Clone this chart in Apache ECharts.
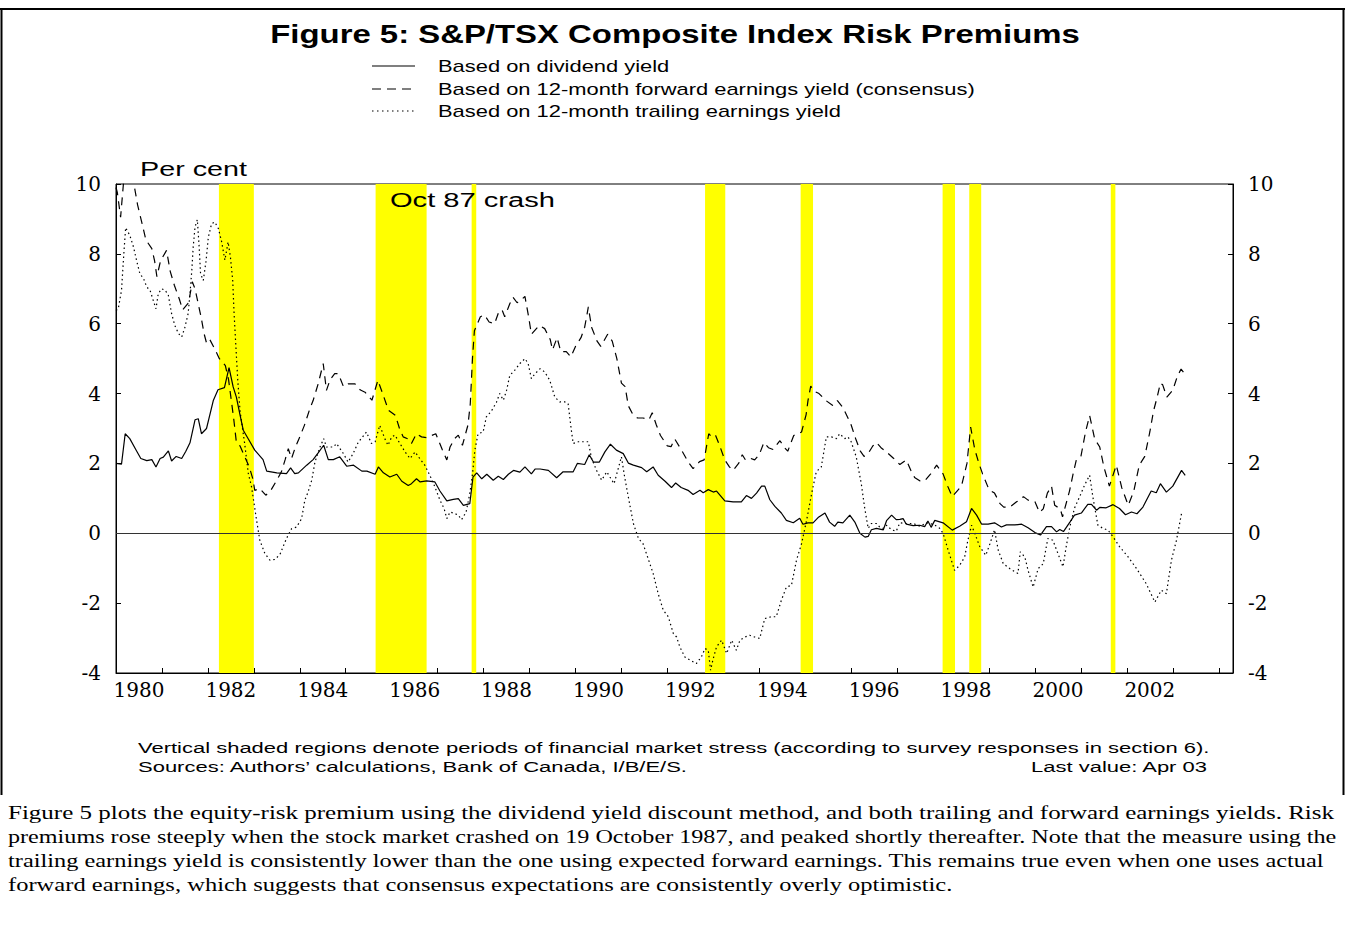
<!DOCTYPE html>
<html>
<head>
<meta charset="utf-8">
<title>Figure 5: S&amp;P/TSX Composite Index Risk Premiums</title>
<script src="https://cdn.jsdelivr.net/npm/echarts@6.0.0/dist/echarts.min.js"></script>
<style>
  html, body { margin: 0; padding: 0; background: #fff; }
  #chart { width: 1345px; height: 951px; }
</style>
</head>
<body>
<div id="chart"></div>
<script>
// monthly-ish readings, [decimal year, per cent]
const dividendYield = [
  [1980.00,2.00],[1980.12,1.98],[1980.20,2.85],[1980.30,2.71],[1980.43,2.40],[1980.54,2.14],[1980.67,2.08],
  [1980.78,2.11],[1980.87,1.90],[1980.96,2.14],[1981.03,2.18],[1981.14,2.36],[1981.21,2.07],[1981.31,2.20],
  [1981.43,2.14],[1981.52,2.35],[1981.61,2.59],[1981.72,3.25],[1981.79,3.28],[1981.86,2.85],[1981.97,3.00],
  [1982.12,3.81],[1982.22,4.11],[1982.36,4.17],[1982.46,4.74],[1982.55,4.19],[1982.62,3.90],[1982.70,3.38],
  [1982.77,2.95],[1982.88,2.70],[1983.02,2.38],[1983.20,2.11],[1983.28,1.78],[1983.50,1.73],[1983.71,1.71],
  [1983.80,1.87],[1983.89,1.71],[1983.97,1.73],[1984.15,1.95],[1984.29,2.11],[1984.40,2.30],[1984.52,2.52],
  [1984.62,2.11],[1984.73,2.11],[1984.87,2.19],[1985.02,1.92],[1985.17,1.95],[1985.35,1.78],[1985.46,1.78],
  [1985.64,1.69],[1985.71,1.90],[1985.82,1.73],[1985.96,1.61],[1986.11,1.69],[1986.22,1.49],[1986.36,1.37],
  [1986.43,1.42],[1986.54,1.56],[1986.62,1.47],[1986.76,1.50],[1986.94,1.47],[1987.05,1.21],[1987.20,0.93],
  [1987.34,0.97],[1987.45,0.99],[1987.56,0.80],[1987.70,0.85],[1987.77,1.61],[1987.85,1.73],[1987.96,1.56],
  [1988.07,1.69],[1988.21,1.52],[1988.32,1.63],[1988.43,1.54],[1988.54,1.69],[1988.65,1.80],[1988.79,1.75],
  [1988.90,1.90],[1989.04,1.70],[1989.12,1.84],[1989.23,1.84],[1989.41,1.80],[1989.59,1.59],[1989.73,1.76],
  [1989.95,1.76],[1990.04,2.00],[1990.20,1.97],[1990.30,2.25],[1990.39,2.04],[1990.52,2.04],[1990.64,2.33],
  [1990.76,2.55],[1990.89,2.38],[1991.04,2.28],[1991.15,2.01],[1991.26,1.95],[1991.44,1.88],[1991.55,1.76],
  [1991.69,1.90],[1991.80,1.66],[1991.95,1.49],[1992.09,1.31],[1992.18,1.44],[1992.30,1.31],[1992.45,1.23],
  [1992.56,1.11],[1992.71,1.23],[1992.78,1.16],[1992.89,1.25],[1993.00,1.18],[1993.07,1.21],[1993.25,0.93],
  [1993.43,0.90],[1993.61,0.90],[1993.72,1.08],[1993.83,1.00],[1993.94,1.15],[1994.05,1.35],[1994.12,1.35],
  [1994.23,0.96],[1994.34,0.77],[1994.48,0.58],[1994.59,0.37],[1994.74,0.30],[1994.88,0.43],[1994.95,0.26],
  [1995.06,0.30],[1995.17,0.30],[1995.28,0.45],[1995.43,0.58],[1995.53,0.32],[1995.64,0.20],[1995.71,0.32],
  [1995.82,0.30],[1995.97,0.52],[1996.08,0.32],[1996.19,0.00],[1996.30,-0.11],[1996.37,-0.09],[1996.44,0.10],
  [1996.55,0.14],[1996.70,0.10],[1996.77,0.36],[1996.88,0.52],[1996.98,0.39],[1997.06,0.40],[1997.13,0.42],
  [1997.20,0.26],[1997.35,0.22],[1997.49,0.23],[1997.60,0.19],[1997.67,0.35],[1997.74,0.17],[1997.82,0.37],
  [1998.00,0.30],[1998.20,0.09],[1998.36,0.20],[1998.51,0.33],[1998.62,0.71],[1998.73,0.52],[1998.84,0.26],
  [1998.98,0.26],[1999.12,0.30],[1999.27,0.18],[1999.38,0.24],[1999.56,0.24],[1999.71,0.26],[1999.85,0.16],
  [2000.00,0.02],[2000.12,-0.05],[2000.25,0.19],[2000.36,0.19],[2000.47,0.04],[2000.54,0.11],[2000.62,0.05],
  [2000.76,0.32],[2000.86,0.52],[2001.01,0.58],[2001.15,0.83],[2001.23,0.83],[2001.34,0.66],[2001.41,0.74],
  [2001.55,0.73],[2001.70,0.82],[2001.84,0.71],[2001.97,0.53],[2002.10,0.61],[2002.22,0.56],[2002.35,0.75],
  [2002.53,1.21],[2002.64,1.16],[2002.73,1.42],[2002.86,1.18],[2003.00,1.35],[2003.19,1.80],[2003.27,1.66]
];

const forwardYield = [
  [1980.00,9.90],[1980.03,9.75],[1980.10,9.05],[1980.20,10.6],[1980.30,10.4],[1980.39,10.0],[1980.47,9.40],
  [1980.58,8.80],[1980.65,8.40],[1980.78,8.15],[1980.84,7.80],[1980.89,7.35],[1980.97,7.80],[1981.10,8.10],
  [1981.18,7.50],[1981.27,7.10],[1981.38,6.70],[1981.45,6.40],[1981.58,6.60],[1981.66,7.20],[1981.72,7.00],
  [1981.85,6.20],[1981.92,5.70],[1981.97,5.45],[1982.04,5.55],[1982.14,5.30],[1982.25,5.00],[1982.38,4.80],
  [1982.45,4.40],[1982.50,3.90],[1982.56,3.30],[1982.62,2.60],[1982.70,2.50],[1982.80,2.20],[1982.90,1.90],
  [1982.98,1.55],[1983.02,1.23],[1983.13,1.28],[1983.26,1.09],[1983.37,1.23],[1983.50,1.52],[1983.60,1.76],
  [1983.68,2.10],[1983.75,2.42],[1983.82,2.14],[1983.90,2.45],[1984.00,2.76],[1984.10,3.09],[1984.22,3.57],
  [1984.29,3.80],[1984.40,4.28],[1984.51,4.86],[1984.58,4.09],[1984.66,4.40],[1984.76,4.57],[1984.84,4.57],
  [1984.95,4.20],[1985.05,4.28],[1985.20,4.28],[1985.32,4.10],[1985.42,4.04],[1985.57,3.81],[1985.70,4.38],
  [1985.83,3.90],[1985.93,3.52],[1986.08,3.38],[1986.17,3.00],[1986.25,2.76],[1986.36,2.70],[1986.43,2.57],
  [1986.54,2.85],[1986.65,2.76],[1986.76,2.74],[1986.96,2.85],[1987.10,2.40],[1987.20,2.10],[1987.27,2.47],
  [1987.37,2.71],[1987.45,2.81],[1987.54,2.52],[1987.66,3.10],[1987.71,3.70],[1987.76,5.05],[1987.80,5.80],
  [1987.85,5.95],[1987.93,6.20],[1988.02,6.25],[1988.12,6.05],[1988.24,6.00],[1988.32,6.30],[1988.40,6.40],
  [1988.46,6.20],[1988.57,6.57],[1988.64,6.76],[1988.73,6.60],[1988.83,6.70],[1988.90,6.78],[1988.98,6.20],
  [1989.04,5.70],[1989.21,5.95],[1989.33,5.86],[1989.45,5.55],[1989.50,5.25],[1989.60,5.60],[1989.68,5.20],
  [1989.80,5.20],[1989.90,5.05],[1990.00,5.35],[1990.12,5.60],[1990.20,5.90],[1990.28,6.48],[1990.35,5.90],
  [1990.47,5.50],[1990.55,5.35],[1990.70,5.70],[1990.80,5.50],[1990.90,5.00],[1991.00,4.30],[1991.08,4.20],
  [1991.15,3.65],[1991.25,3.40],[1991.35,3.30],[1991.47,3.30],[1991.60,3.25],[1991.67,3.45],[1991.76,3.10],
  [1991.85,2.80],[1992.00,2.50],[1992.08,2.48],[1992.16,2.70],[1992.30,2.40],[1992.45,2.05],[1992.56,1.85],
  [1992.70,2.05],[1992.80,2.10],[1992.90,2.85],[1992.97,2.75],[1993.05,2.80],[1993.14,2.50],[1993.25,2.10],
  [1993.35,1.90],[1993.43,1.80],[1993.55,2.00],[1993.63,2.25],[1993.70,2.10],[1993.80,2.15],[1993.90,2.10],
  [1994.00,2.25],[1994.10,2.60],[1994.20,2.45],[1994.30,2.40],[1994.45,2.65],[1994.55,2.45],[1994.62,2.35],
  [1994.75,2.80],[1994.85,2.85],[1994.92,2.90],[1995.02,3.40],[1995.06,3.80],[1995.12,4.21],[1995.22,4.05],
  [1995.30,4.00],[1995.45,3.80],[1995.60,3.66],[1995.70,3.80],[1995.82,3.60],[1995.93,3.30],[1996.00,3.10],
  [1996.10,2.70],[1996.20,2.35],[1996.28,2.20],[1996.40,2.35],[1996.47,2.50],[1996.55,2.60],[1996.65,2.45],
  [1996.75,2.35],[1996.92,2.15],[1997.06,1.97],[1997.20,2.10],[1997.30,1.80],[1997.38,1.60],[1997.50,1.50],
  [1997.60,1.50],[1997.73,1.70],[1997.86,1.95],[1998.00,1.70],[1998.10,1.35],[1998.20,1.05],[1998.30,1.20],
  [1998.40,1.35],[1998.52,2.00],[1998.60,3.04],[1998.69,2.40],[1998.78,2.00],[1998.86,1.70],[1999.00,1.25],
  [1999.12,1.15],[1999.24,0.85],[1999.32,0.75],[1999.45,0.75],[1999.60,0.90],[1999.66,0.95],[1999.75,1.05],
  [1999.85,0.95],[2000.00,0.90],[2000.10,0.60],[2000.18,0.70],[2000.27,1.15],[2000.36,1.35],[2000.43,0.80],
  [2000.55,0.70],[2000.60,0.47],[2000.75,1.20],[2000.83,1.70],[2000.90,2.10],[2001.00,2.20],[2001.10,2.90],
  [2001.19,3.37],[2001.30,2.70],[2001.41,2.47],[2001.50,1.90],[2001.62,1.35],[2001.77,1.95],[2001.89,1.30],
  [2002.03,0.80],[2002.15,1.20],[2002.27,1.95],[2002.39,2.20],[2002.50,2.90],[2002.58,3.50],[2002.66,3.90],
  [2002.73,4.30],[2002.78,4.25],[2002.87,3.90],[2003.00,4.10],[2003.10,4.50],[2003.18,4.70],[2003.27,4.55]
];

const trailingYield = [
  [1980.00,6.38],[1980.05,6.43],[1980.12,6.96],[1980.17,8.00],[1980.21,8.75],[1980.30,8.53],[1980.38,8.20],
  [1980.45,7.80],[1980.52,7.43],[1980.60,7.29],[1980.67,7.05],[1980.74,6.96],[1980.81,6.67],[1980.87,6.43],
  [1980.92,6.86],[1980.99,7.00],[1981.07,6.96],[1981.14,6.81],[1981.21,6.29],[1981.28,5.95],[1981.36,5.72],
  [1981.43,5.62],[1981.50,5.90],[1981.57,6.29],[1981.61,6.86],[1981.65,7.53],[1981.68,8.20],[1981.72,8.77],
  [1981.77,8.98],[1981.81,8.20],[1981.84,7.43],[1981.90,7.24],[1981.96,7.80],[1982.01,8.48],[1982.08,8.86],
  [1982.15,8.91],[1982.23,8.72],[1982.30,8.34],[1982.37,7.82],[1982.44,8.34],[1982.49,7.91],[1982.54,7.24],
  [1982.57,6.29],[1982.61,5.33],[1982.65,4.38],[1982.70,3.50],[1982.80,2.57],[1982.88,1.71],[1982.95,1.33],
  [1983.06,0.37],[1983.13,-0.20],[1983.24,-0.58],[1983.35,-0.77],[1983.46,-0.75],[1983.57,-0.60],[1983.71,-0.15],
  [1983.82,0.13],[1983.93,0.18],[1984.04,0.42],[1984.11,0.95],[1984.18,1.18],[1984.26,1.52],[1984.33,2.04],
  [1984.44,2.47],[1984.52,2.71],[1984.58,2.47],[1984.73,2.47],[1984.80,2.57],[1984.95,2.28],[1985.05,2.04],
  [1985.16,2.28],[1985.27,2.60],[1985.45,2.90],[1985.56,2.57],[1985.64,2.62],[1985.74,3.09],[1985.85,2.71],
  [1985.92,2.52],[1986.00,2.76],[1986.07,2.81],[1986.18,2.57],[1986.29,2.33],[1986.40,2.14],[1986.51,2.33],
  [1986.61,2.14],[1986.72,1.95],[1986.83,1.66],[1986.94,1.33],[1987.05,0.95],[1987.14,0.71],[1987.20,0.42],
  [1987.27,0.61],[1987.38,0.56],[1987.45,0.52],[1987.52,0.39],[1987.62,0.61],[1987.70,1.14],[1987.76,1.71],
  [1987.81,2.38],[1987.88,2.85],[1987.99,2.90],[1988.06,3.33],[1988.17,3.50],[1988.28,3.75],[1988.35,4.00],
  [1988.43,3.81],[1988.50,4.09],[1988.57,4.52],[1988.68,4.67],[1988.79,4.86],[1988.90,5.00],[1988.97,4.86],
  [1989.04,4.43],[1989.12,4.57],[1989.23,4.71],[1989.33,4.62],[1989.44,4.38],[1989.55,3.90],[1989.66,3.76],
  [1989.77,3.76],[1989.84,3.71],[1989.91,2.95],[1989.95,2.57],[1990.06,2.62],[1990.17,2.62],[1990.28,2.62],
  [1990.35,2.14],[1990.46,1.80],[1990.57,1.52],[1990.68,1.76],[1990.75,1.61],[1990.84,1.42],[1990.93,1.85],
  [1991.00,2.19],[1991.07,1.61],[1991.15,1.04],[1991.26,0.28],[1991.37,-0.15],[1991.47,-0.30],[1991.58,-0.72],
  [1991.69,-1.15],[1991.80,-1.73],[1991.91,-2.20],[1992.02,-2.39],[1992.13,-2.87],[1992.20,-2.97],[1992.27,-3.25],
  [1992.38,-3.54],[1992.49,-3.63],[1992.63,-3.73],[1992.74,-3.54],[1992.82,-3.30],[1992.89,-3.35],[1992.94,-3.92],
  [1992.99,-3.63],[1993.07,-3.25],[1993.18,-3.06],[1993.29,-3.44],[1993.40,-3.06],[1993.50,-3.35],[1993.58,-3.06],
  [1993.69,-2.97],[1993.79,-2.92],[1993.90,-2.97],[1994.01,-3.01],[1994.12,-2.44],[1994.26,-2.39],[1994.37,-2.39],
  [1994.48,-1.92],[1994.59,-1.54],[1994.70,-1.49],[1994.81,-0.77],[1994.92,-0.30],[1995.03,0.37],[1995.14,1.14],
  [1995.24,1.76],[1995.35,1.90],[1995.46,2.76],[1995.57,2.76],[1995.68,2.71],[1995.75,2.85],[1995.86,2.71],
  [1995.93,2.76],[1996.00,2.62],[1996.11,2.19],[1996.22,1.42],[1996.29,0.76],[1996.37,0.14],[1996.44,0.28],
  [1996.55,0.28],[1996.62,0.18],[1996.69,0.14],[1996.77,0.23],[1996.88,0.10],[1996.98,0.06],[1997.06,0.30],
  [1997.20,0.28],[1997.35,0.28],[1997.50,0.20],[1997.65,0.30],[1997.80,0.25],[1997.92,0.15],[1998.00,0.00],
  [1998.11,-0.48],[1998.25,-1.06],[1998.36,-0.92],[1998.47,-0.68],[1998.54,-0.20],[1998.62,0.23],[1998.69,0.00],
  [1998.80,-0.39],[1998.93,-0.63],[1999.02,-0.30],[1999.12,0.10],[1999.20,-0.48],[1999.31,-0.87],[1999.45,-1.01],
  [1999.56,-1.10],[1999.63,-1.15],[1999.68,-0.53],[1999.78,-0.68],[1999.85,-1.06],[1999.96,-1.54],[2000.07,-1.01],
  [2000.18,-0.87],[2000.28,-0.15],[2000.39,-0.20],[2000.50,-0.58],[2000.61,-0.96],[2000.68,-0.38],[2000.76,0.19],
  [2000.86,0.72],[2000.97,1.04],[2001.08,1.38],[2001.19,1.66],[2001.26,1.04],[2001.37,0.23],[2001.48,0.14],
  [2001.59,0.09],[2001.70,-0.10],[2001.84,-0.38],[2002.03,-0.68],[2002.21,-1.01],[2002.42,-1.44],[2002.61,-1.97],
  [2002.75,-1.63],[2002.86,-1.73],[2002.97,-0.77],[2003.08,-0.20],[2003.19,0.57]
];

// financial market stress periods (shaded)
const stressPeriods = [
  [1982.24, 1983.00], [1985.65, 1986.76], [1987.74, 1987.84], [1992.82, 1993.26],
  [1994.90, 1995.17], [1997.99, 1998.26], [1998.57, 1998.83], [2001.65, 2001.75]
];

const tickYears = [];
for (let y = 1980; y <= 2004; y++) tickYears.push(y);
const labelYears = [1980, 1982, 1984, 1986, 1988, 1990, 1992, 1994, 1996, 1998, 2000, 2002];

const seriesNames = [
  'Based on dividend yield',
  'Based on 12-month forward earnings yield (consensus)',
  'Based on 12-month trailing earnings yield'
];

const captionLines = [
  'Figure 5 plots the equity-risk premium using the dividend yield discount method, and both trailing and forward earnings yields. Risk',
  'premiums rose steeply when the stock market crashed on 19 October 1987, and peaked shortly thereafter. Note that the measure using the',
  'trailing earnings yield is consistently lower than the one using expected forward earnings. This remains true even when one uses actual',
  'forward earnings, which suggests that consensus expectations are consistently overly optimistic.'
];
// right edge of each caption line in the reference
const captionEnds = [1335, 1337, 1325, 953];

// the reference is stretched sideways, so texts are widened to the measured widths
const measureCtx = document.createElement('canvas').getContext('2d');
function fitScale(str, font, width) {
  measureCtx.font = font;
  return width / measureCtx.measureText(str).width;
}

const titleFont = 'bold 25px "Liberation Sans"';
const legendFont = '16px "Liberation Sans"';
const tagFont = '21px "Liberation Sans"';
const noteFont = '15px "Liberation Sans"';
const captionFont = '19px "Liberation Serif"';

const titleText = 'Figure 5: S&P/TSX Composite Index Risk Premiums';
const noteLine1 = 'Vertical shaded regions denote periods of financial market stress (according to survey responses in section 6).';
const noteLine2 = 'Sources: Authors\u2019 calculations, Bank of Canada, I/B/E/S.';

const titleScale = fitScale(titleText, titleFont, 810);
const legendScale = fitScale(seriesNames[1], legendFont, 537);
const noteScale = fitScale(noteLine1, noteFont, 1072);

function txt(str, x, y, font, sx, align) {
  return {
    type: 'text', x: x, y: y, scaleX: sx, scaleY: 1, silent: true, z: 10,
    style: {
      text: str, font: font, fill: '#000',
      align: align || 'left', verticalAlign: 'middle',
      textAlign: align || 'left', textVerticalAlign: 'middle'
    }
  };
}
function seg(x1, y1, x2, y2, dash, w) {
  return {
    type: 'line', silent: true, z: 10,
    shape: { x1: x1, y1: y1, x2: x2, y2: y2 },
    style: { stroke: '#000', lineWidth: w || 1.2, lineDash: dash || null }
  };
}

const legendRows = [66, 89, 111];
const lineDashes = [null, [9, 6], [1.5, 3.5]];

const graphics = [
  // page frame
  seg(0, 9, 1345, 9, null, 2),
  seg(1.5, 9, 1.5, 795, null, 2),
  seg(1343.5, 9, 1343.5, 795, null, 2),
  txt(titleText, 675, 34, titleFont, titleScale, 'center'),
  txt('Per cent', 140, 168, tagFont, fitScale('Per cent', tagFont, 107)),
  txt('Oct 87 crash', 390, 200, tagFont, fitScale('Oct 87 crash', tagFont, 165)),
  txt(noteLine1, 138, 748, noteFont, noteScale),
  txt(noteLine2, 138, 767, noteFont, noteScale),
  txt('Last value: Apr 03', 1207, 767, noteFont, noteScale, 'right')
];
seriesNames.forEach(function (name, i) {
  graphics.push(seg(372, legendRows[i], 415, legendRows[i], lineDashes[i], 1.2));
  graphics.push(txt(name, 438, legendRows[i] + 1, legendFont, legendScale));
});
captionLines.forEach(function (line, i) {
  const sx = fitScale(line, captionFont, captionEnds[i] - 8);
  graphics.push(txt(line, 8, 813 + i * 24, captionFont, sx));
});

const axisFont = { fontFamily: 'DejaVu Serif', fontSize: 20, color: '#000' };

const chart = echarts.init(document.getElementById('chart'), null, { renderer: 'svg' });
chart.setOption({
  animation: false,
  backgroundColor: '#fff',
  grid: {
    left: 116, right: 112, top: 184, bottom: 278,
    show: true, borderColor: '#000', borderWidth: 1, backgroundColor: 'transparent'
  },
  xAxis: {
    type: 'value', min: 1980, max: 2004.31,
    axisLine: { show: true, onZero: false, lineStyle: { color: '#000', width: 1 } },
    axisTick: { show: true, inside: true, length: 5, customValues: tickYears, lineStyle: { color: '#000' } },
    axisLabel: Object.assign({
      customValues: labelYears.map(function (y) { return y + 0.5; }),
      formatter: function (v) { return String(Math.floor(v)); },
      margin: 7
    }, axisFont),
    splitLine: { show: false }
  },
  yAxis: [
    {
      type: 'value', min: -4, max: 10, interval: 2, position: 'left',
      axisLine: { show: true, onZero: false, lineStyle: { color: '#000' } },
      axisTick: { show: true, inside: true, length: 5, lineStyle: { color: '#000' } },
      axisLabel: Object.assign({ margin: 15 }, axisFont),
      splitLine: { show: false }
    },
    {
      type: 'value', min: -4, max: 10, interval: 2, position: 'right',
      axisLine: { show: true, onZero: false, lineStyle: { color: '#000' } },
      axisTick: { show: true, inside: true, length: 5, lineStyle: { color: '#000' } },
      axisLabel: Object.assign({ margin: 15 }, axisFont),
      splitLine: { show: false }
    }
  ],
  series: [
    {
      name: 'stress', type: 'line', data: [], z: 1, silent: true,
      markArea: {
        silent: true,
        itemStyle: { color: '#ffff00' },
        data: stressPeriods.map(function (p) { return [{ xAxis: p[0] }, { xAxis: p[1] }]; })
      }
    },
    {
      name: seriesNames[0], type: 'line', data: dividendYield, symbol: 'none', z: 3,
      lineStyle: { color: '#000', width: 1.2 },
      markLine: {
        silent: true, symbol: 'none', label: { show: false },
        lineStyle: { color: '#333', width: 1, type: 'solid' },
        data: [{ yAxis: 0 }]
      }
    },
    {
      name: seriesNames[1], type: 'line', data: forwardYield, symbol: 'none', z: 3,
      lineStyle: { color: '#000', width: 1.2, type: [8, 6] }
    },
    {
      name: seriesNames[2], type: 'line', data: trailingYield, symbol: 'none', z: 3,
      lineStyle: { color: '#000', width: 1.2, type: [1.5, 3] }
    }
  ],
  graphic: { elements: graphics }
});
</script>
</body>
</html>
